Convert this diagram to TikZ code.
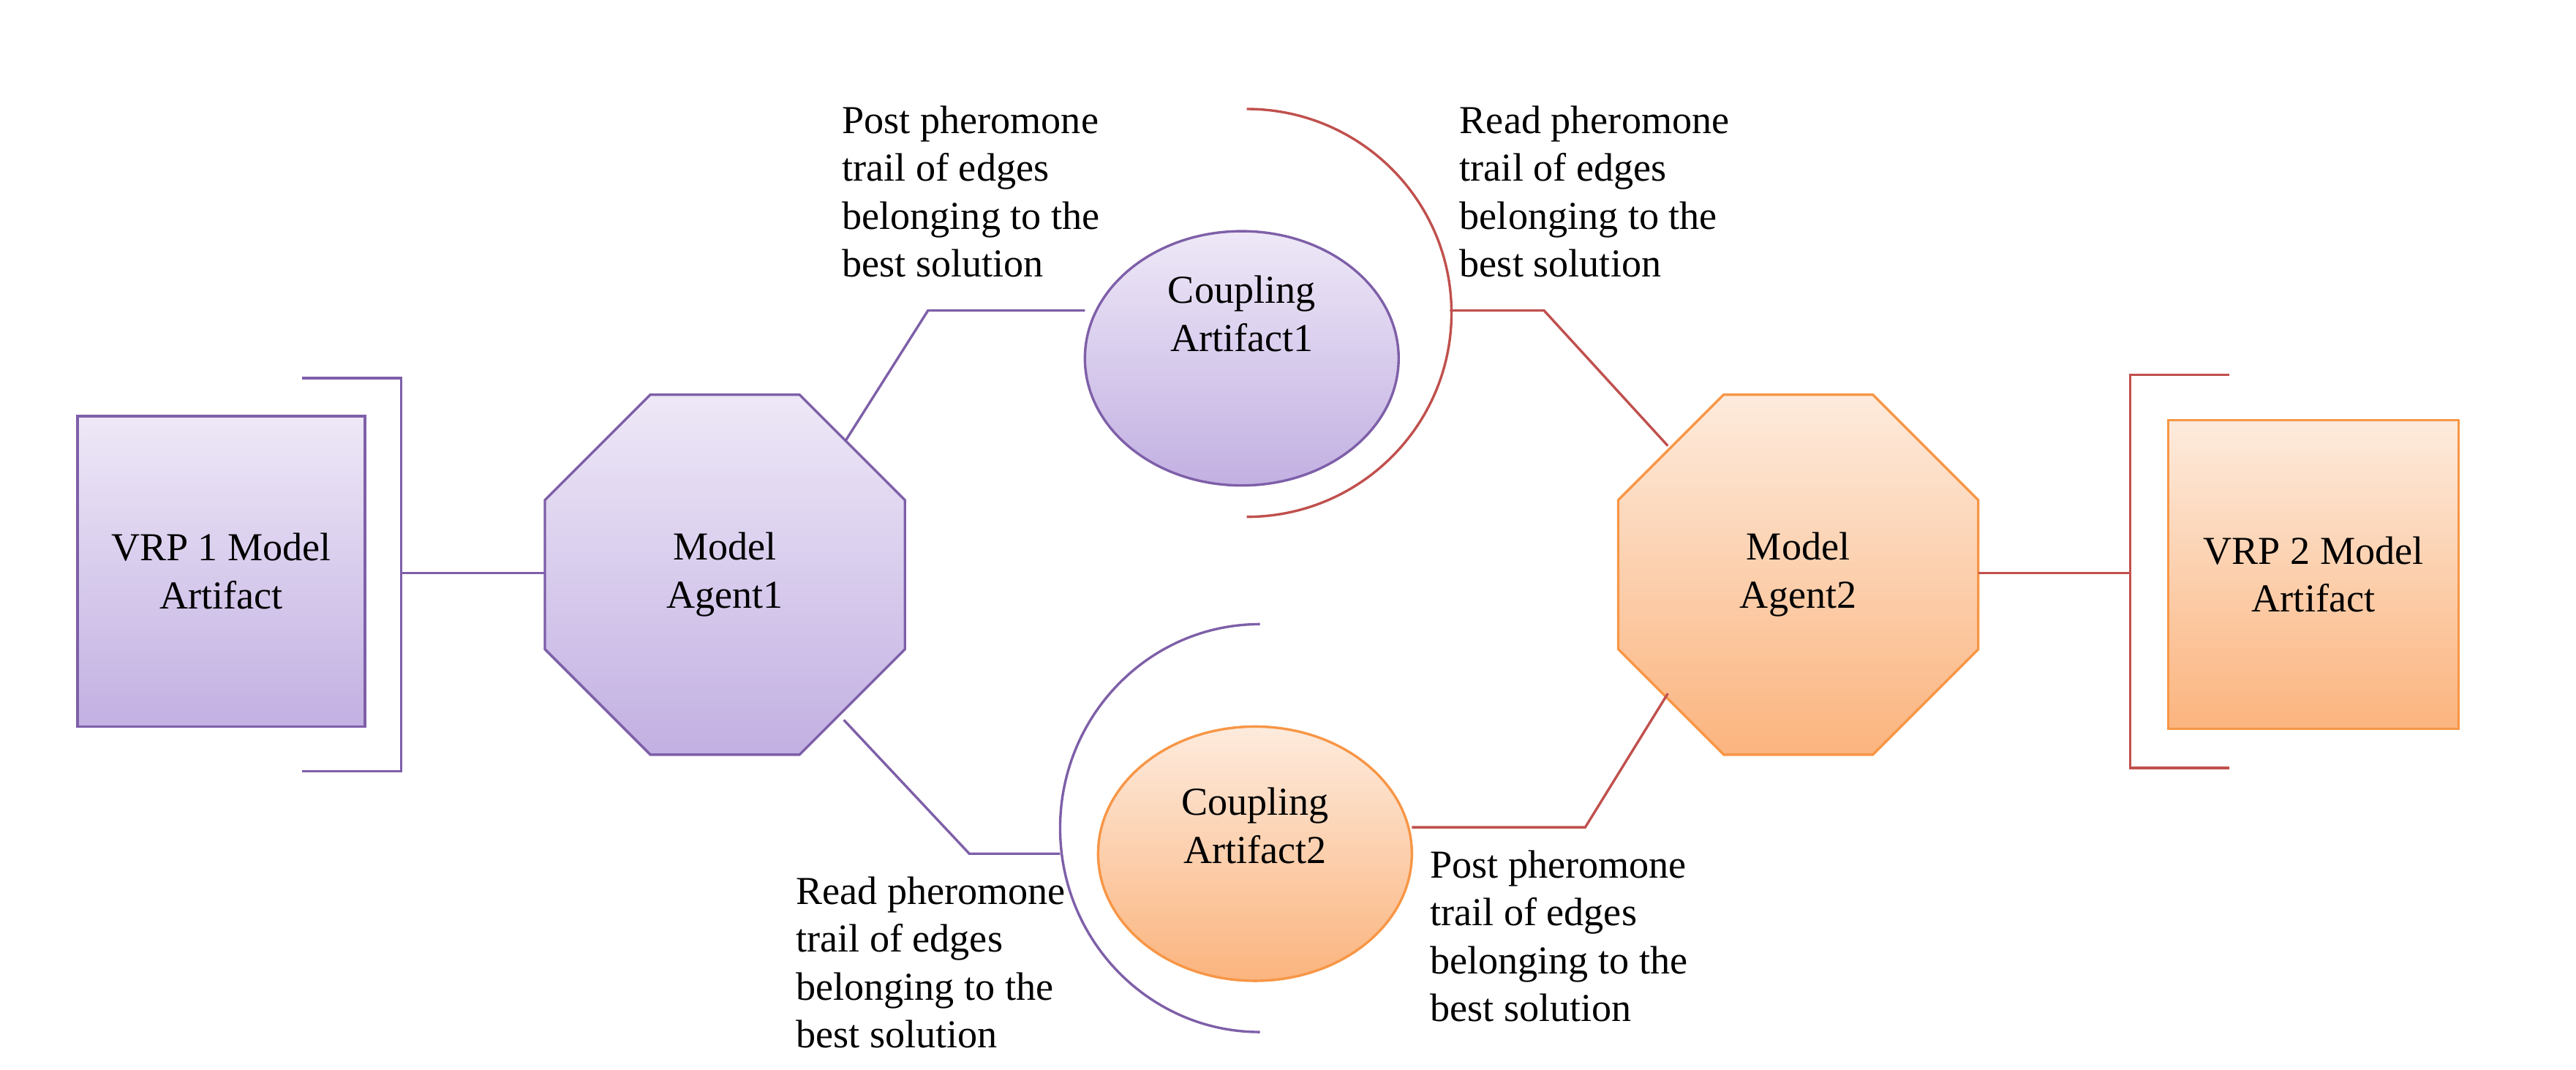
\documentclass[tikz,border=0pt]{standalone}
\usepackage{fontspec}
\setmainfont{Liberation Serif}
\usetikzlibrary{shapes.geometric}
\definecolor{pbd}{HTML}{7E5FA8}
\definecolor{ptop}{HTML}{EEE8F7}
\definecolor{pbot}{HTML}{C2B0E2}
\definecolor{obd}{HTML}{F79646}
\definecolor{otop}{HTML}{FDEBDD}
\definecolor{obot}{HTML}{FBB47E}
\definecolor{rl}{HTML}{C0504D}
\begin{document}
\begin{tikzpicture}[x=1pt,y=-1pt,
  every node/.style={font=\fontsize{24}{29}\selectfont,align=center,inner sep=0,outer sep=0},
  purp/.style={draw=pbd,line width=1.5pt,top color=ptop,bottom color=pbot},
  oran/.style={draw=obd,line width=1.5pt,top color=otop,bottom color=obot},
  oct/.style={regular polygon,regular polygon sides=8,minimum size=236pt},
  lbl/.style={align=left,anchor=north west},
  pl/.style={draw=pbd,line width=1.5pt},
  rdl/.style={draw=rl,line width=1.5pt}]
\useasboundingbox (0,0) rectangle (1560,648);
\node[purp,minimum width=174pt,minimum height=188pt] (s1) at (134,346) {VRP 1 Model\\Artifact};
\node[oran,minimum width=176pt,minimum height=187pt] (s2) at (1401,348) {VRP 2 Model\\Artifact};
\node[purp,oct] (a1) at (439,348) {Model\\Agent1};
\node[oran,oct] (a2) at (1089,348) {Model\\Agent2};
\node[purp,ellipse,minimum width=190pt,minimum height=154pt] (c1) at (752,217) {};
\node at (752,190) {Coupling\\Artifact1};
\node[oran,ellipse,minimum width=190pt,minimum height=154pt] (c2) at (760,517) {};
\node at (760,500) {Coupling\\Artifact2};
% brackets
\coordinate (b1t) at (243,229); \coordinate (b1b) at (243,467);
\draw[pl] (183,229) -- (b1t) -- (b1b) -- (183,467);
\draw[pl] (243,347) -- (a1.west |- 0,347);
\coordinate (b2t) at (1290,227); \coordinate (b2b) at (1290,465);
\draw[rdl] (1350,227) -- (b2t) -- (b2b) -- (1350,465);
\draw[rdl] (a2.east |- 0,347) -- (1290,347);
% arcs
\draw[rdl] (755,66) arc(-90:90:124 and 123.5);
\draw[pl] (763,378) arc(-90:-270:121 and 123.5);
% connectors
\coordinate (k1) at (562,188); \coordinate (k2) at (935,188);
\coordinate (k3) at (587,517); \coordinate (k4) at (960,501);
\draw[pl] (512,267) -- (k1) -- (c1.west |- k1);
\draw[rdl] (878,188) -- (k2) -- (1010,270);
\draw[pl] (511,436) -- (k3) -- (642,517);
\draw[rdl] (c2.east |- k4) -- (k4) -- (1010,420);
% labels
\node[lbl] (t1) at (510,64) {Post pheromone\\trail of edges\\belonging to the\\best solution};
\node[lbl] (t2) at (884,64) {Read pheromone\\trail of edges\\belonging to the\\best solution};
\node[lbl] (t3) at (482,531) {Read pheromone\\trail of edges\\belonging to the\\best solution};
\node[lbl] (t4) at (866,515) {Post pheromone\\trail of edges\\belonging to the\\best solution};
\end{tikzpicture}
\end{document}
